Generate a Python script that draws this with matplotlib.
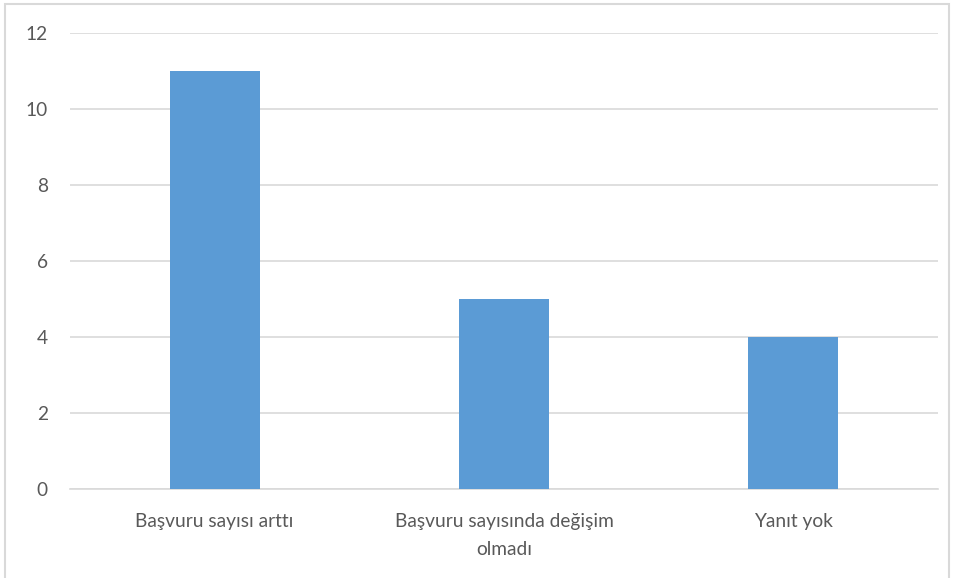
import matplotlib
matplotlib.use("Agg")
import matplotlib.pyplot as plt
from matplotlib.patches import Rectangle

categories = ["Başvuru sayısı arttı", "Başvuru sayısında değişim\nolmadı", "Yanıt yok"]
values = [11, 5, 4]
yticks = [0, 2, 4, 6, 8, 10, 12]

plt.rcParams['font.family'] = ['Lato', 'DejaVu Sans']

fig = plt.figure(figsize=(9.54, 5.78), dpi=100)
ax = fig.add_axes([70/954, 1-489/578, 868/954, (489-33)/578])

x = list(range(len(categories)))
ax.bar(x, values, width=0.31, color="#5B9BD5", zorder=3)
ax.set_xlim(-0.5, len(categories)-0.5)
ax.set_ylim(0, 12)
ax.set_yticks(yticks)
ax.set_yticklabels([str(t) for t in yticks])
ax.set_xticks(x)
ax.set_xticklabels(categories, linespacing=1.8)
ax.grid(axis='y', color="#D9D9D9", linewidth=1.2, zorder=0)
for s in ['top', 'right', 'left']:
    ax.spines[s].set_visible(False)
ax.spines['bottom'].set_color("#D9D9D9")
ax.spines['bottom'].set_linewidth(1.2)
ax.tick_params(axis='both', length=0, colors="#595959", labelsize=13.8)
ax.tick_params(axis='x', pad=17)
ax.tick_params(axis='y', pad=16)

fig.patches.append(Rectangle((5/954, -0.01), 944/954, 1-4/578+0.01, transform=fig.transFigure,
                             fill=False, edgecolor="#D9D9D9", linewidth=1.5))

fig.savefig("out.png", dpi=100)
